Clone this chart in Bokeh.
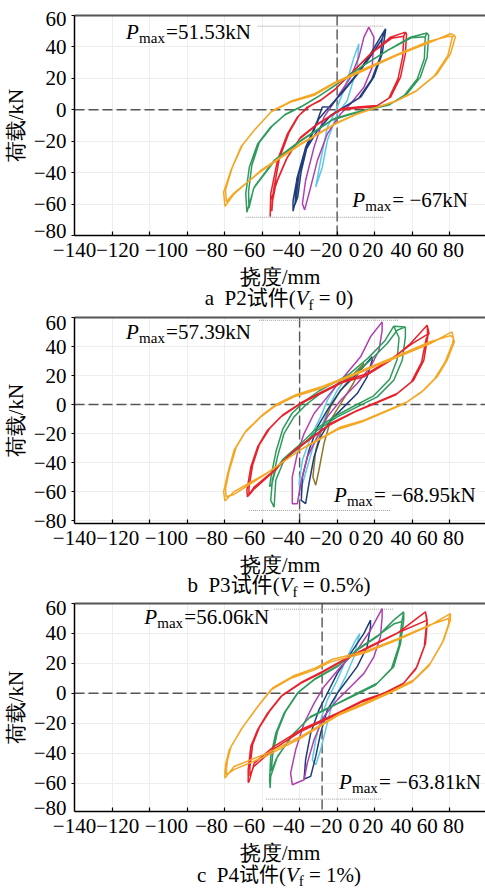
from bokeh.plotting import figure
from bokeh.models import Range1d, LinearAxis, FixedTicker, Span, Div
from bokeh.layouts import column
from bokeh.core.properties import value
from bokeh.embed import file_html
from bokeh.resources import INLINE

# ---------------- data ----------------
y_ticks = [-80, -60, -40, -20, 0, 20, 40, 60]
y_tick_labels = ["−80", "−60", "−40", "−20", "0", "20", "40", "60"]
# where the printed y labels sit (end labels are pulled inside the frame)
a_y_label_pos = [-77.3, -60, -40, -20, 0, 20, 40, 57.9]
b_y_label_pos = [-80, -60, -40, -20, 0, 20, 40, 56.3]
c_y_label_pos = [-76.7, -60, -40, -20, 0, 20, 40, 57.3]
x_ticks = [-120, -100, -80, -60, -40, -20, 0, 20, 40, 60]
x_tick_labels = ["−140", "−120", "−100", "−80", "−60", "−40", "−20", "0", "20", "40", "60", "80"]
x_label_pos = [-140, -117, -91, -67, -47, -26, -6, 9, 19, 34, 48, 62]

# panel a: P2
a_cyan_x = [11.6, 10.7, 5.4, 0.1, -5.2, -7.9, -11.4, -8.8, -5.2, 0.1, 5.4, 9.0, 11.6]
a_cyan_y = [42.0, 27.1, 5.9, -2.6, -19.6, -36.5, -49.2, -32.4, -11.0, 1.7, 18.6, 33.5, 42.0]
a_magenta_x = [16.9, 19.6, 18.7, 14.3, 7.2, 1.9, -5.2, -10.5, -14.1, -17.3, -18.5, -16.8, -12.3, -7.0, 0.1, 7.2, 11.6, 14.3, 16.9]
a_magenta_y = [52.6, 46.2, 27.1, 14.4, 3.8, -2.5, -15.3, -32.2, -49.2, -63.7, -59.8, -45.0, -23.8, -4.7, 8.0, 20.7, 33.5, 46.2, 52.6]
a_navy_x = [25.8, 25.8, 24.0, 19.6, 12.5, 3.6, -3.5, -10.5, -16.8, -21.2, -23.5, -23.5, -22.1, -20.3, -16.8, -10.5, -7.9, -3.5, 1.9, 10.7, 17.8, 23.1, 25.8,
            24.0, 23.0, 18.5, 11.5, 3.0, -4.0, -11.0, -17.5, -21.5, -22.5, -21.0, -19.2, -15.8, -9.8, -3.0, 3.0, 11.5, 18.5, 24.0]
a_navy_y = [51.5, 50.4, 35.6, 20.8, 8.0, 1.7, -3.6, -13.2, -25.9, -42.9, -57.8, -64.5, -57.8, -40.8, -23.8, -6.8, 1.7, 2.0, 10.2, 22.9, 35.6, 46.2, 51.5,
            45.2, 33.5, 19.5, 7.2, 1.0, -4.5, -14.2, -27.0, -44.0, -60.5, -55.5, -39.5, -22.5, -5.8, 3.5, 11.2, 23.5, 35.2, 45.2]
a_red_x = [36.4, 37.0, 36.4, 33.8, 28.5, 21.4, 10.7, 1.9, -1.7, -10.5, -19.4, -26.5, -31.8, -35.4, -35.7, -35.4, -31.8, -26.5, -21.2, -15.9, -8.8, -1.7, 7.2, 17.8, 28.5, 36.4,
           35.5, 35.0, 32.5, 27.5, 20.5, 10.0, 1.5, -2.5, -11.0, -20.0, -27.0, -32.5, -34.5, -34.8, -34.0, -30.8, -25.5, -20.5, -14.5, -8.0, -1.0, 8.0, 18.5, 29.0, 35.5]
a_red_y = [49.4, 48.3, 35.6, 20.8, 8.0, 2.7, 1.7, 0.6, -2.5, -8.9, -17.4, -30.1, -45.0, -57.8, -68.0, -53.5, -32.2, -15.3, -4.7, 1.7, 5.9, 12.3, 22.9, 35.6, 46.2, 49.4,
           46.8, 34.0, 19.8, 7.2, 2.0, 1.0, -0.2, -3.2, -9.8, -18.5, -31.2, -46.5, -58.5, -64.5, -52.0, -31.0, -14.2, -3.8, 2.4, 6.8, 13.2, 23.8, 36.2, 45.5, 46.8]
a_green_x = [47.9, 48.8, 48.0, 44.4, 37.3, 28.5, 17.8, 7.2, -1.7, -19.4, -33.6, -44.2, -48.1, -48.7, -46.8, -42.4, -35.4, -28.3, -19.4, -10.5, 0.1, 12.5, 26.7, 39.1, 47.9,
             47.0, 46.5, 42.8, 36.0, 27.5, 17.0, 6.5, -2.5, -20.0, -34.0, -44.5, -47.0, -47.2, -45.5, -41.5, -34.5, -27.5, -18.5, -9.5, 1.0, 13.5, 27.5, 39.5, 47.0]
a_green_y = [48.9, 47.3, 33.5, 20.8, 10.2, 3.8, 0.6, -2.5, -5.7, -19.5, -32.2, -49.2, -65.2, -53.5, -36.5, -21.7, -11.0, -3.6, 1.7, 8.0, 16.5, 27.1, 37.7, 46.2, 48.9,
             46.5, 32.5, 19.8, 9.4, 3.0, 0.0, -3.2, -6.5, -20.5, -33.5, -50.0, -62.5, -52.0, -35.5, -20.8, -10.2, -2.8, 2.5, 8.8, 17.2, 27.8, 38.2, 45.8, 46.5]
a_orange_x = [62.5, 63.0, 60.4, 53.3, 42.6, 32.0, 21.4, 10.7, 0.1, -19.4, -40.7, -54.9, -59.8, -60.5, -56.6, -51.3, -44.3, -35.4, -24.7, -12.3, -1.7, 14.3, 32.0, 49.7, 60.4, 62.5,
              61.5, 59.0, 52.0, 41.5, 31.0, 20.5, 10.0, -0.5, -20.0, -41.0, -55.0, -59.0, -59.5, -56.0, -50.5, -43.5, -34.5, -24.0, -12.0, -1.5, 14.0, 32.0, 49.0, 59.5, 61.5]
a_orange_y = [47.5, 46.2, 35.6, 22.9, 12.3, 5.9, 1.7, -2.5, -8.0, -21.6, -38.6, -53.5, -61.5, -52.4, -38.5, -23.7, -13.2, -1.5, 4.9, 9.2, 16.5, 25.0, 34.6, 43.0, 48.4, 47.5,
              46.5, 34.5, 21.8, 11.5, 5.2, 1.2, -3.0, -8.8, -22.5, -39.5, -53.0, -58.5, -51.0, -37.0, -22.5, -12.0, -0.5, 5.8, 10.2, 17.2, 25.8, 35.2, 43.6, 46.8, 46.5]

# panel b: P3
b_cyan_x = [5.4, 5.4, 0.1, -3.5, -7.0, -12.3, -15.9, -19.4, -20.3, -18.5, -14.1, -8.8, -5.2, 0.1, 5.4]
b_cyan_y = [21.3, 19.1, 9.9, 0.7, -10.8, -26.9, -43.0, -59.0, -54.5, -38.4, -22.3, -8.5, 3.0, 14.5, 21.3]
b_olive_x = [14.3, 13.0, 8.6, 1.9, -3.5, -7.0, -9.7, -11.4, -12.9, -11.4, -7.9, -3.5, 1.9, 9.0, 14.3]
b_olive_y = [28.3, 26.0, 14.5, 0.7, -10.8, -26.9, -45.3, -55.6, -49.9, -31.5, -15.4, -1.6, 9.9, 21.3, 28.3]
b_navy_x = [18.7, 18.7, 16.0, 10.7, 3.6, -3.5, -8.8, -12.3, -15.0, -16.8, -19.1, -18.5, -15.0, -10.5, -5.2, 1.9, 10.7, 18.7]
b_navy_y = [32.9, 30.5, 19.1, 7.6, -1.6, -10.8, -22.3, -36.1, -54.5, -68.3, -66.0, -49.9, -31.5, -15.4, -3.9, 9.9, 21.3, 32.9]
b_magenta_x = [24.0, 24.0, 22.3, 17.8, 10.7, 1.9, -5.2, -10.5, -15.9, -19.4, -21.2, -23.9, -23.9, -21.2, -17.6, -12.3, -5.2, 3.6, 12.5, 17.8, 24.0]
b_magenta_y = [57.0, 51.2, 37.4, 25.9, 14.5, 3.0, -8.5, -22.3, -36.1, -54.5, -68.3, -68.3, -49.9, -33.8, -20.0, -6.2, 5.3, 19.1, 32.9, 46.7, 57.0]
b_green_x = [36.4, 36.4, 34.7, 30.2, 21.4, 10.7, 0.1, -10.5, -17.6, -28.3, -32.7, -33.6, -35.4, -34.5, -31.8, -28.3, -23.0, -15.9, -8.8, 7.2, 17.8, 26.7, 32.0, 36.4,
             30.2, 33.0, 32.0, 28.0, 19.5, 9.0, -1.0, -11.5, -18.5, -28.8, -33.0, -35.0, -36.0, -35.0, -32.5, -29.0, -24.0, -17.0, -9.5, 6.0, 16.5, 25.5, 30.2]
b_green_y = [53.5, 46.7, 30.5, 16.8, 5.3, -1.6, -8.5, -17.7, -26.9, -38.4, -52.2, -70.7, -66.0, -52.2, -36.1, -20.0, -8.5, 0.7, 7.6, 19.1, 30.5, 42.1, 51.2, 53.5,
             54.0, 46.0, 31.0, 17.5, 6.0, -1.0, -8.0, -17.0, -26.0, -37.5, -46.0, -55.6, -56.5, -48.0, -32.0, -17.0, -6.0, 2.5, 9.5, 20.5, 32.0, 44.0, 54.0]
b_red_x = [48.0, 48.3, 46.2, 40.8, 32.0, 21.4, 10.7, -3.5, -23.0, -33.6, -44.2, -47.8, -48.1, -46.0, -42.4, -37.1, -30.0, -19.4, -8.8, 3.6, 14.3, 28.5, 39.1, 48.0,
           49.0, 47.5, 45.0, 39.5, 31.0, 20.5, 9.5, -4.5, -24.0, -34.5, -44.5, -47.0, -47.0, -45.0, -41.5, -36.0, -29.0, -18.5, -8.0, 4.5, 15.5, 29.5, 40.0, 49.0]
b_red_y = [54.7, 46.7, 30.5, 16.8, 7.6, 1.8, -4.0, -13.1, -31.5, -45.3, -56.8, -63.7, -59.1, -43.0, -29.2, -17.7, -8.5, 0.7, 7.6, 15.6, 19.1, 30.5, 42.1, 54.7,
           49.0, 45.5, 29.0, 15.5, 6.5, 0.8, -5.0, -14.5, -33.0, -47.0, -58.5, -62.5, -57.5, -41.5, -27.8, -16.5, -7.2, 1.8, 8.8, 16.8, 21.0, 32.0, 42.0, 49.0]
b_orange_x = [61.2, 62.5, 58.6, 53.3, 46.2, 37.3, 26.7, 14.3, 1.9, -19.4, -37.1, -54.9, -59.8, -60.5, -58.4, -54.9, -49.6, -40.7, -33.6, -23.0, -8.8, 0.0, 14.3, 32.0, 49.7, 61.2,
              62.0, 61.5, 57.5, 52.0, 45.0, 36.0, 25.5, 13.0, 1.0, -20.0, -38.0, -55.0, -59.2, -59.5, -57.5, -53.8, -48.5, -39.5, -32.5, -22.0, -8.0, 1.0, 15.0, 32.5, 50.0, 60.5, 62.0]
b_orange_y = [50.1, 43.2, 30.5, 19.1, 9.9, 1.8, -4.0, -10.8, -15.4, -31.0, -47.0, -60.0, -66.5, -60.2, -47.6, -31.5, -20.0, -8.5, -1.6, 5.3, 11.0, 15.6, 23.0, 32.5, 42.1, 50.1,
              46.0, 42.0, 29.2, 17.8, 8.6, 0.6, -5.2, -12.0, -16.8, -31.5, -48.0, -62.0, -63.5, -58.0, -45.5, -29.5, -18.0, -6.8, 0.0, 6.8, 12.5, 17.0, 24.5, 33.8, 43.5, 47.5, 46.0]

# panel c: P4
c_cyan_x = [12.1, 11.6, 9.0, 4.5, 0.1, -3.5, -6.1, -8.8, -11.4, -13.2, -11.4, -8.8, -5.2, 0.1, 5.4, 9.9, 12.1]
c_cyan_y = [40.0, 37.8, 24.4, 11.1, 0.0, -11.1, -24.4, -37.8, -47.8, -44.4, -31.1, -17.8, -4.4, 8.9, 24.4, 35.5, 40.0]
c_navy_x = [17.8, 17.8, 16.0, 10.7, 5.4, 0.1, -5.2, -8.8, -11.4, -14.1, -17.6, -16.8, -14.1, -9.7, -5.2, 0.1, 7.2, 14.3, 17.8]
c_navy_y = [48.9, 44.4, 31.1, 17.8, 8.9, 0.0, -11.1, -26.7, -42.2, -55.5, -57.3, -44.4, -26.7, -11.1, 0.0, 13.3, 26.7, 40.0, 48.9]
c_magenta_x = [24.0, 24.0, 23.1, 19.6, 14.3, 7.2, 0.1, -7.0, -12.3, -15.9, -17.6, -23.9, -24.8, -22.1, -17.6, -12.3, -7.0, 1.9, 10.7, 17.8, 24.0]
c_magenta_y = [56.6, 51.1, 37.8, 24.4, 13.3, 4.4, -4.4, -15.5, -31.1, -46.7, -57.8, -61.1, -53.3, -37.8, -20.0, -6.7, 4.4, 17.8, 28.9, 42.2, 56.6]
c_green_x = [35.5, 35.5, 33.8, 30.2, 21.4, 10.7, 0.1, -14.1, -23.0, -31.8, -35.4, -35.7, -36.0, -35.4, -32.7, -28.3, -21.2, -12.3, 0.1, 10.7, 21.4, 30.2, 35.5,
             34.5, 33.0, 29.0, 20.5, 10.0, -0.8, -15.0, -24.0, -32.5, -35.0, -35.0, -34.3, -31.8, -27.5, -20.5, -11.5, 1.0, 11.5, 22.0, 30.5, 34.5]
c_green_y = [54.4, 48.9, 33.3, 17.8, 6.7, 0.0, -6.7, -15.5, -26.7, -42.2, -55.5, -63.3, -57.8, -42.2, -26.7, -13.3, 0.0, 8.9, 17.8, 28.9, 37.8, 48.9, 54.4,
             48.0, 32.0, 16.5, 5.5, -1.0, -7.6, -16.5, -28.0, -44.0, -52.0, -50.0, -40.5, -25.5, -12.2, 1.0, 10.0, 19.0, 30.0, 38.8, 46.5, 48.0]
c_red_x = [47.1, 48.0, 47.1, 42.6, 35.5, 24.9, 14.3, 0.1, -19.4, -33.6, -44.2, -46.9, -47.4, -47.4, -46.0, -42.4, -37.1, -30.0, -19.4, -8.8, 3.7, 17.8, 32.0, 47.1,
           48.0, 47.5, 46.5, 42.0, 34.5, 24.0, 13.5, -0.8, -20.0, -34.0, -44.5, -46.5, -46.5, -45.0, -41.5, -36.0, -29.0, -18.5, -8.0, 4.5, 18.5, 33.0, 48.0]
c_red_y = [54.4, 46.7, 33.3, 17.8, 6.7, 0.0, -4.4, -13.3, -24.4, -35.5, -46.7, -58.9, -59.6, -51.1, -35.5, -24.4, -13.3, -2.2, 6.7, 13.3, 22.2, 31.1, 40.0, 54.4,
           48.9, 44.5, 31.5, 16.2, 5.4, -1.2, -5.6, -14.5, -26.0, -37.5, -49.0, -55.5, -49.5, -34.0, -23.0, -12.0, -1.0, 7.8, 14.5, 23.2, 32.2, 40.8, 48.9]
c_orange_x = [60.4, 60.4, 56.8, 49.7, 40.8, 28.5, 14.3, 1.9, -19.4, -37.1, -54.9, -59.8, -59.8, -59.3, -57.5, -51.3, -42.4, -35.4, -24.7, -12.3, -3.5, 14.3, 32.0, 49.7, 60.4,
              59.5, 59.5, 56.0, 49.0, 40.0, 27.5, 13.5, 1.0, -20.0, -38.0, -55.0, -59.0, -59.0, -58.5, -56.5, -50.0, -41.0, -34.0, -23.5, -11.5, -2.5, 15.0, 33.0, 50.0, 59.5]
c_orange_y = [53.3, 48.9, 35.5, 20.0, 8.9, 1.1, -6.7, -13.3, -28.9, -40.0, -48.9, -56.7, -52.2, -46.7, -37.8, -24.4, -8.9, 2.2, 10.0, 15.5, 21.0, 26.7, 35.5, 45.5, 53.3,
              50.0, 46.5, 33.5, 18.5, 7.5, -0.2, -8.0, -14.5, -30.5, -42.0, -51.0, -54.5, -50.5, -45.0, -35.5, -22.0, -6.8, 4.0, 11.5, 17.0, 22.8, 28.0, 36.8, 46.0, 50.0]

# peak-load guide lines and labels
a_guides_x0 = [-42.4, -48.7]; a_guides_x1 = [24.9, 24.9]; a_guides_y = [53.2, -68.4]
b_guides_x0 = [-41.6, -46.9]; b_guides_x1 = [33.0, 28.5]; b_guides_y = [58.1, -73.0]
c_guides_x0 = [-33.6, -38.0]; c_guides_x1 = [30.2, 24.0]; c_guides_y = [56.2, -70.7]
a_pmax_text = ["=51.53kN", "= −67kN"]
b_pmax_text = ["=57.39kN", "= −68.95kN"]
c_pmax_text = ["=56.06kN", "= −63.81kN"]
a_zero_x = 0
b_zero_x = -20
c_zero_x = -8

# ---------------- styling ----------------
FONT = "Liberation Serif"
CSS_FONT = "'Liberation Serif', 'Noto Sans CJK SC', serif"
ORANGE = "#f5a623"; RED = "#e8212b"; GREEN = "#2e9b5c"; MAGENTA = "#b23fae"
NAVY = "#1f3d7a"; CYAN = "#5ec8e5"; OLIVE = "#8c7a2a"
W = 485
LEFT = 73
BOTTOM = 58


def make_panel(loops, y_lo, y_lab_pos, zero_x, gx0, gx1, gy, ptexts, lab_pos, height, border_top):
    p = figure(width=W, height=height, x_range=Range1d(-140, 79.1), y_range=Range1d(y_lo, 60),
               output_backend="svg", toolbar_location=None, x_axis_location=None,
               min_border_left=LEFT, min_border_right=0, min_border_top=border_top,
               min_border_bottom=BOTTOM)
    p.outline_line_color = None
    p.background_fill_color = "white"
    p.border_fill_color = None   # transparent margins, so captions can sit in them

    # bottom axis: labels at their printed places, inward tick marks as minor ticks
    xa = LinearAxis(ticker=FixedTicker(ticks=x_label_pos, minor_ticks=x_ticks),
                    major_label_overrides={k: v for k, v in zip(x_label_pos, x_tick_labels)},
                    axis_line_color="black", axis_line_width=1.5,
                    major_tick_line_color=None, major_tick_in=0, major_tick_out=0,
                    minor_tick_line_color="black", minor_tick_line_width=1.2,
                    minor_tick_in=4, minor_tick_out=0,
                    major_label_standoff=7,
                    major_label_text_font=FONT, major_label_text_font_size="21px",
                    major_label_text_color="black",
                    axis_label="挠度/mm", axis_label_text_font=FONT, axis_label_text_font_size="21px",
                    axis_label_text_font_style="normal", axis_label_standoff=5,
                    axis_label_text_color="black")
    p.add_layout(xa, "below")

    # top frame line
    top = LinearAxis(ticker=FixedTicker(ticks=[]), axis_line_color="#555555", axis_line_width=2,
                     major_tick_line_color=None, minor_tick_line_color=None,
                     major_tick_in=0, major_tick_out=0, major_label_standoff=0)
    p.add_layout(top, "above")

    ya = p.yaxis[0]
    ya.ticker = FixedTicker(ticks=y_lab_pos, minor_ticks=y_ticks)
    ya.major_label_overrides = {k: v for k, v in zip(y_lab_pos, y_tick_labels)}
    ya.major_tick_line_color = None
    ya.major_tick_in = 0
    ya.major_tick_out = 0
    ya.minor_tick_in = 0
    ya.minor_tick_out = 3
    ya.minor_tick_line_color = "black"
    ya.minor_tick_line_width = 1.2
    ya.major_label_standoff = 5
    ya.major_label_text_font = FONT
    ya.major_label_text_font_size = "21px"
    ya.major_label_text_color = "black"
    ya.axis_line_color = "black"
    ya.axis_line_width = 1.5
    ya.axis_label = "荷载/kN"
    ya.axis_label_text_font = FONT
    ya.axis_label_text_font_size = "21px"
    ya.axis_label_text_font_style = "normal"
    ya.axis_label_standoff = 3
    ya.axis_label_text_color = "black"

    p.xgrid.ticker = FixedTicker(ticks=x_ticks)
    p.ygrid.ticker = FixedTicker(ticks=y_ticks)
    p.xgrid.grid_line_color = "#eeeeee"
    p.ygrid.grid_line_color = "#eeeeee"

    p.add_layout(Span(location=0, dimension="width", line_color="#555555", line_width=1.4,
                      line_dash="10 4", level="underlay"))
    p.add_layout(Span(location=zero_x, dimension="height", line_color="#555555", line_width=1.4,
                      line_dash="10 4", level="underlay"))
    p.segment(x0=gx0, y0=gy, x1=gx1, y1=gy, line_color="#999999", line_width=1, line_dash="1 1")

    for xs, ys, col in loops:
        p.line(xs, ys, line_color=col, line_width=1.5)

    for (px_, py_), rest in zip(lab_pos, ptexts):
        p.text(x=[px_], y=[py_], text=["P"], text_font=value(FONT),
               text_font_style="italic", text_font_size="21px", text_baseline="middle",
               text_align="left", text_color="black")
        p.text(x=[px_], y=[py_], text=["max"], text_font=value(FONT),
               text_font_size="15px", text_baseline="middle", text_align="left",
               x_offset=13, y_offset=6, text_color="black")
        p.text(x=[px_], y=[py_], text=[rest], text_font=value(FONT),
               text_font_size="21px", text_baseline="middle", text_align="left",
               x_offset=40, text_color="black")
    return p


# heights: frame heights 220 / 206 / 208 px, plus top border and BOTTOM
p1 = make_panel([(a_cyan_x, a_cyan_y, CYAN), (a_magenta_x, a_magenta_y, MAGENTA),
                 (a_navy_x, a_navy_y, NAVY), (a_red_x, a_red_y, RED),
                 (a_green_x, a_green_y, GREEN), (a_orange_x, a_orange_y, ORANGE)],
                -80, a_y_label_pos, a_zero_x, a_guides_x0, a_guides_x1, a_guides_y, a_pmax_text,
                [(-112.5, 49.8), (8.1, -57.7)], 15 + 220 + BOTTOM, 15)
p2 = make_panel([(b_cyan_x, b_cyan_y, CYAN), (b_olive_x, b_olive_y, OLIVE),
                 (b_navy_x, b_navy_y, NAVY), (b_magenta_x, b_magenta_y, MAGENTA),
                 (b_green_x, b_green_y, GREEN), (b_red_x, b_red_y, RED),
                 (b_orange_x, b_orange_y, ORANGE)],
                -82, b_y_label_pos, b_zero_x, b_guides_x0, b_guides_x1, b_guides_y, b_pmax_text,
                [(-112.5, 49.9), (-1.7, -62.1)], 14 + 206 + BOTTOM, 14)
p3 = make_panel([(c_cyan_x, c_cyan_y, CYAN), (c_navy_x, c_navy_y, NAVY),
                 (c_magenta_x, c_magenta_y, MAGENTA), (c_green_x, c_green_y, GREEN),
                 (c_red_x, c_red_y, RED), (c_orange_x, c_orange_y, ORANGE)],
                -79, c_y_label_pos, c_zero_x, c_guides_x0, c_guides_x1, c_guides_y, c_pmax_text,
                [(-102.8, 50.7), (1.0, -59.3)], 14 + 208 + BOTTOM, 14)

CAP_STYLE = {"font-family": CSS_FONT, "font-size": "21px", "color": "black",
             "overflow": "visible", "z-index": "2"}


def caption(letter, spec, vf, h, lh, shift, cjk_size=21, sub_drop=5):
    html = ('<div style="display:block;margin:0;padding:0;margin-left:%dpx;width:%dpx;text-align:center;'
            'line-height:%dpx;height:%dpx;white-space:nowrap;overflow:visible;position:relative;top:%dpx;">'
            '%s&nbsp;&nbsp;%s<span style="font-size:%dpx;">试件</span>(<i>V</i>'
            '<span style="font-size:15px;position:relative;top:%dpx;">f</span>'
            '&nbsp;= %s)</div>'
            % (LEFT, W - LEFT, lh, h, shift, letter, spec, cjk_size, sub_drop, vf))
    return Div(text=html, width=W, height=h, margin=(0, 0, 0, 0), styles=CAP_STYLE)


d1 = caption("a", "P2", "0", 10, 10, -10)
d2 = caption("b", "P3", "0.5%", 8, 8, -11)
d3 = caption("c", "P4", "1%", 20, 15, -9, 20, 4)

layout = column(p1, d1, p2, d2, p3, d3)
open("out.html", "w").write(file_html(layout, INLINE))
